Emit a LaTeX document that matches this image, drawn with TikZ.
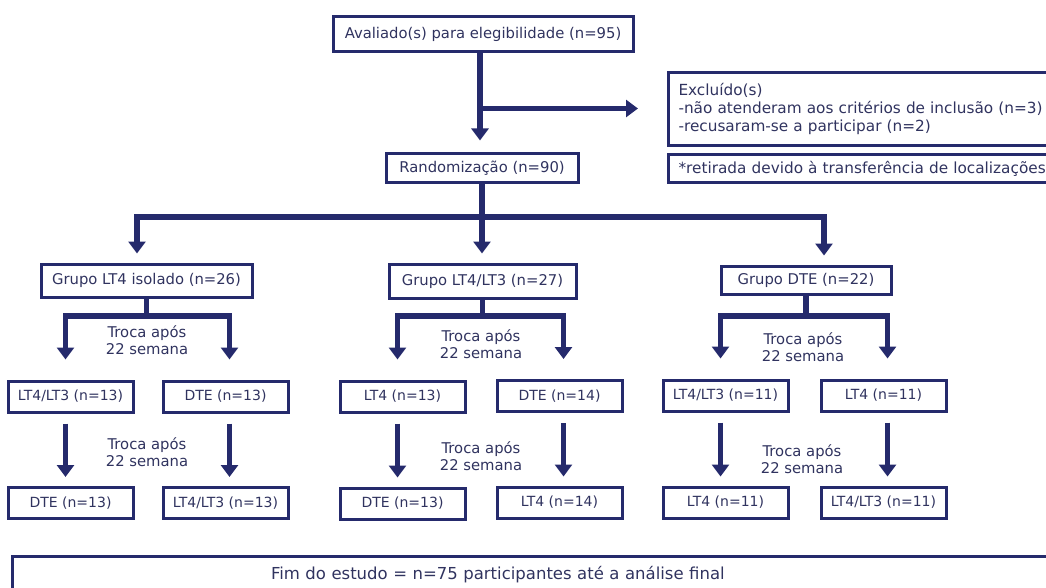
\documentclass[tikz,border=0pt]{standalone}
\usepackage{fontspec}
\setmainfont{DejaVu Sans}
\usetikzlibrary{arrows.meta}
\definecolor{azul}{HTML}{252A6C}
\definecolor{texto}{HTML}{30335F}

\begin{document}
\begin{tikzpicture}[x=1pt, y=-1pt,
    caixa/.style = {draw=azul, line width=3pt, text=texto, inner sep=0pt,
                    font=\fontsize{14.8}{18}\selectfont},
    braco/.style = {caixa, minimum width=125pt, minimum height=31pt,
                    font=\fontsize{14}{17}\selectfont},
    linha/.style = {draw=azul, line width=5.2pt},
    seta/.style  = {linha, -{Triangle[width=17pt, length=12pt]}},
    troca/.style = {text=texto, align=center, font=\fontsize{14.8}{17}\selectfont}]
    % Quadro
    \useasboundingbox (0,0) rectangle (1046,588);
    \clip (0,0) rectangle (1046,588);
    % Triagem
    \node[caixa, minimum width=300pt, minimum height=35pt] (aval) at (483,34.5)
        {Avaliado(s) para elegibilidade (n=95)};
    \node[caixa, anchor=north west, minimum height=73pt, text width=400pt,
          align=left, inner xsep=10pt, font=\fontsize{15.3}{18}\selectfont] (excl) at (667,71)
        {Excluído(s)\\-não atenderam aos critérios de inclusão (n=3)\\-recusaram-se a participar (n=2)};
    \node[caixa, anchor=north west, minimum height=28pt, text width=400pt,
          align=left, inner xsep=10pt, font=\fontsize{15.3}{18}\selectfont] (nota) at (667,153)
        {*retirada devido à transferência de localizações};
    \node[caixa, minimum width=192pt, minimum height=29pt] (rand) at (482,168.5)
        {Randomização (n=90)};
    % Grupos
    \node[caixa, minimum width=211pt, minimum height=33pt] (g1) at (146.5,280.5)
        {Grupo LT4 isolado (n=26)};
    \node[caixa, minimum width=187pt, minimum height=34pt] (g2) at (482.5,281)
        {Grupo LT4/LT3 (n=27)};
    \node[caixa, minimum width=170pt, minimum height=28pt] (g3) at (806,280)
        {Grupo DTE (n=22)};
    % Primeira fase
    \node[braco] (a1) at (70.5,396.5) {LT4/LT3 (n=13)};
    \node[braco] (b1) at (225.5,396.5) {DTE (n=13)};
    \node[braco] (a2) at (402.5,396.5) {LT4 (n=13)};
    \node[braco] (b2) at (559.5,396) {DTE (n=14)};
    \node[braco] (a3) at (725.5,395.5) {LT4/LT3 (n=11)};
    \node[braco] (b3) at (883.5,395.5) {LT4 (n=11)};
    % Segunda fase
    \node[braco] (c1) at (70.5,503) {DTE (n=13)};
    \node[braco] (d1) at (225.5,503) {LT4/LT3 (n=13)};
    \node[braco] (c2) at (402.5,503.5) {DTE (n=13)};
    \node[braco] (d2) at (559.5,502.5) {LT4 (n=14)};
    \node[braco] (c3) at (725.5,502.5) {LT4 (n=11)};
    \node[braco] (d3) at (883.5,502.5) {LT4/LT3 (n=11)};
    % Trocas
    \node[troca] (t1) at (147,340.5) {Troca após\\22 semana};
    \node[troca] (u1) at (147,452) {Troca após\\22 semana};
    \node[troca] (t2) at (481,344) {Troca após\\22 semana};
    \node[troca] (u2) at (481,456) {Troca após\\22 semana};
    \node[troca] (t3) at (803,347.5) {Troca após\\22 semana};
    \node[troca] (u3) at (802,459.5) {Troca após\\22 semana};
    % Fim
    \node[caixa, anchor=north west, minimum height=36pt, text width=560pt,
          align=left, inner xsep=259pt, font=\fontsize{16.5}{20}\selectfont] (fim) at (10.5,555)
        {Fim do estudo = n=75 participantes até a análise final};
    % Frecce
    \draw[seta, shorten >=12pt] ([xshift=-3pt]aval.south) -- ([xshift=-3pt]aval.south |- rand.north);
    \path ([xshift=-3pt]aval.south) ++(0,55) coordinate (desvio);
    \draw[seta, shorten >=29pt] (desvio) -- (desvio -| excl.west);
    \path (rand.south) ++(0,32.5) coordinate (ramo);
    \draw[linha] (rand.south) -- (ramo);
    \draw[seta, shorten >=9pt] (ramo) -| ([xshift=-9.5pt]g1.north);
    \draw[seta, shorten >=9pt] (ramo) -- (ramo |- g2.north);
    \draw[seta, shorten >=9pt] (ramo) -| ([xshift=18pt]g3.north);
    \coordinate (nivel) at (0,316);
    \foreach \g in {1,2,3}{
        \draw[linha] (g\g.south) -- (g\g.south |- nivel);
        \draw[seta, shorten >=20pt] (g\g.south |- nivel) -| ([xshift=-5pt]a\g.north);
        \draw[seta, shorten >=20pt] (g\g.south |- nivel) -| ([xshift=4pt]b\g.north);
        \draw[seta, shorten <=10pt, shorten >=9pt] ([xshift=-5pt]a\g.south) -- ([xshift=-5pt]c\g.north);
        \draw[seta, shorten <=10pt, shorten >=9pt] ([xshift=4pt]b\g.south) -- ([xshift=4pt]d\g.north);
    }
\end{tikzpicture}
\end{document}
